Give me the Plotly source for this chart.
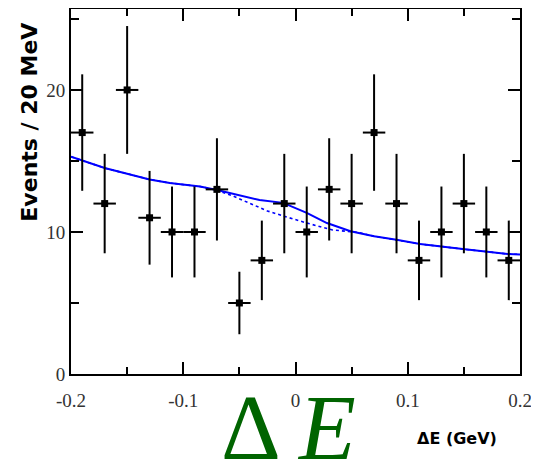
import plotly.graph_objects as go

# Data points (bin centres, counts, errors)
bin_centers = [-0.19, -0.17, -0.15, -0.13, -0.11, -0.09, -0.07, -0.05, -0.03, -0.01,
               0.01, 0.03, 0.05, 0.07, 0.09, 0.11, 0.13, 0.15, 0.17, 0.19]
counts = [17, 12, 20, 11, 10, 10, 13, 5, 8, 12,
          10, 13, 12, 17, 12, 8, 10, 12, 10, 8]
count_err = [4.1, 3.5, 4.5, 3.3, 3.2, 3.2, 3.6, 2.2, 2.8, 3.5,
             3.2, 3.6, 3.5, 4.1, 3.5, 2.8, 3.2, 3.5, 3.2, 2.8]
bin_half_width = [0.01] * 20

# Total fit (solid)
fit_x = [-0.2, -0.17, -0.13, -0.112, -0.085, -0.067, -0.032, -0.011, 0.01, 0.028,
         0.049, 0.07, 0.09, 0.111, 0.149, 0.189, 0.2]
fit_y = [15.3, 14.5, 13.7, 13.45, 13.2, 12.9, 12.25, 12.05, 11.35, 10.63,
         10.05, 9.7, 9.45, 9.15, 8.8, 8.45, 8.42]

# Background component (dashed)
bkg_x = [-0.2, -0.17, -0.13, -0.112, -0.085, -0.07, -0.056, -0.041, -0.025, -0.011,
         0.01, 0.033, 0.055, 0.07, 0.09, 0.111, 0.149, 0.189, 0.2]
bkg_y = [15.3, 14.5, 13.7, 13.45, 13.2, 12.95, 12.54, 12.04, 11.48, 11.13,
         10.63, 10.14, 9.98, 9.7, 9.45, 9.15, 8.8, 8.45, 8.42]

x_tick_vals = [-0.2, -0.1, 0, 0.1, 0.2]
x_tick_text = ["-0.2", "-0.1", "0", "0.1", "0.2"]
y_tick_vals = [0, 10, 20]
y_tick_text = ["0", "10", "20"]

fig = go.Figure()

fig.add_trace(go.Scatter(
    x=bkg_x, y=bkg_y, mode="lines",
    line=dict(color="#0000ff", width=1.6, dash="3px,3px"),
    showlegend=False, hoverinfo="skip"))

fig.add_trace(go.Scatter(
    x=fit_x, y=fit_y, mode="lines",
    line=dict(color="#0000ff", width=2),
    showlegend=False, hoverinfo="skip"))

fig.add_trace(go.Scatter(
    x=bin_centers, y=counts, mode="markers",
    marker=dict(symbol="square", size=7, color="black"),
    error_y=dict(type="data", array=count_err, color="black", thickness=2, width=0),
    error_x=dict(type="data", array=bin_half_width, color="black", thickness=2, width=0),
    showlegend=False))

tick_font = dict(family="Liberation Serif", size=19, color="#333333")

fig.update_xaxes(
    range=[-0.2, 0.2], showgrid=False, zeroline=False, automargin=False,
    showline=True, linecolor="black", linewidth=2, mirror="ticks",
    ticks="inside", ticklen=12, tickwidth=1.5, tickcolor="black",
    tickvals=x_tick_vals, ticktext=x_tick_text, tickfont=tick_font,
    ticklabelstandoff=8,
    minor=dict(ticks="inside", ticklen=7, tickwidth=1.5, tickcolor="black",
               dtick=0.05, tick0=-0.2, showgrid=False),
)
fig.update_yaxes(
    range=[0, 25.7], showgrid=False, zeroline=False, automargin=False,
    showline=True, linecolor="black", linewidth=2, mirror="ticks",
    ticks="inside", ticklen=12, tickwidth=1.5, tickcolor="black",
    tickvals=y_tick_vals, ticktext=y_tick_text, tickfont=tick_font,
    minor=dict(ticks="inside", ticklen=8, tickwidth=1.5, tickcolor="black",
               dtick=5, tick0=0, showgrid=False),
)

# The page body has an 8px margin, so the figure is 8px smaller and offset.
fig.update_layout(
    width=531, height=457,
    margin=dict(l=63, r=19, t=1, b=91),
    plot_bgcolor="white", paper_bgcolor="white",
    annotations=[
        dict(text="Events / 20 MeV", xref="paper", yref="paper",
             x=-0.0924, y=0.69, xanchor="center", yanchor="middle",
             textangle=-90, showarrow=False,
             font=dict(family="DejaVu Sans", size=22, color="black", weight="bold")),
        dict(text="ΔE (GeV)", xref="paper", yref="paper",
             x=0.86, y=-0.178, xanchor="center", yanchor="middle",
             showarrow=False,
             font=dict(family="DejaVu Sans", size=16, color="black", weight="bold")),
        dict(text="Δ <i>E</i>", xref="paper", yref="paper",
             x=0.485, y=-0.147, xanchor="center", yanchor="middle",
             showarrow=False,
             font=dict(family="Liberation Serif", size=93, color="#006400")),
    ],
)

fig.write_html("out.html")
